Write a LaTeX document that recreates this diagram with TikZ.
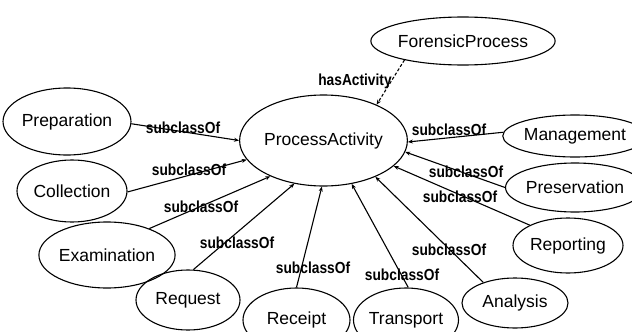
\documentclass[tikz,border=0pt]{standalone}
\usepackage{fontspec}
\setmainfont{Liberation Sans}
\newfontfamily\lblfont[FakeStretch=0.86]{Liberation Sans}
\usetikzlibrary{shapes.geometric,arrows.meta}
\tikzset{
  cls/.style={draw=black, line width=1.1pt, ellipse, inner sep=0pt,
    font=\fontsize{17.5}{20}\selectfont},
  lbl/.style={inner sep=0pt, font=\lblfont\fontsize{16}{18}\selectfont\bfseries},
  sub/.style={line width=1.1pt, -{Stealth[length=5pt,width=4pt]}},
  rel/.style={sub, dash pattern=on 3pt off 2pt}
}
\begin{document}
\begin{tikzpicture}[x=1pt,y=-1pt]
\useasboundingbox (0,0) rectangle (632,332);
\clip (0,0) rectangle (632,332);
% classes
\node[cls, minimum width=154, minimum height=48] (fp) at (463,41) {ForensicProcess};
\node[cls, minimum width=137, minimum height=91] (pa) at (323.5,140.5) {ProcessActivity};
\node[cls, minimum width=108, minimum height=67] (prep) at (67,121.5) {Preparation};
\node[cls, minimum width=110, minimum height=62] (coll) at (72,191) {Collection};
\node[cls, minimum width=108, minimum height=66] (exam) at (107,255) {Examination};
\node[cls, minimum width=104, minimum height=60] (req) at (188,300) {Request};
\node[cls, minimum width=107, minimum height=64] (rec) at (296.5,320) {Receipt};
\node[cls, minimum width=102, minimum height=64] (tra) at (406,320) {Transport};
\node[cls, minimum width=106, minimum height=50] (ana) at (515,303) {Analysis};
\node[cls, minimum width=110, minimum height=55] (rep) at (568,245.5) {Reporting};
\node[cls, minimum width=107, minimum height=49] (pres) at (575,187.5) {Preservation};
\node[cls, minimum width=106, minimum height=42] (man) at (575,136) {Management};
% connectors
\draw[rel] (fp.198) -- (pa.34);
\draw[sub] (prep.-2) -- (pa.180);
\draw[sub] (coll.-1) -- (pa.194);
\draw[sub] (exam.32) -- (pa.214);
\draw[sub] (req.80) -- (pa.236);
\draw[sub] (rec.90) -- (pa.268);
\draw[sub] (tra.86) -- (pa.303);
\draw[sub] (ana.147) -- (pa.325);
\draw[sub] (rep.152) -- (pa.340);
\draw[sub] (pres.180) -- (pa.352);
\draw[sub] (man.177) -- (pa.-1);
% labels
\node[lbl] (lha) at (355,81) {hasActivity};
\node[lbl] (l1) at (183,128) {subclassOf};
\node[lbl] (l2) at (189,170) {subclassOf};
\node[lbl] (l3) at (201,207) {subclassOf};
\node[lbl] (l4) at (237,243) {subclassOf};
\node[lbl] (l5) at (313,268) {subclassOf};
\node[lbl] (l6) at (402,275) {subclassOf};
\node[lbl] (l7) at (449,250) {subclassOf};
\node[lbl] (l8) at (460,197) {subclassOf};
\node[lbl] (l9) at (466,172) {subclassOf};
\node[lbl] (l10) at (449,130) {subclassOf};
\end{tikzpicture}
\end{document}
